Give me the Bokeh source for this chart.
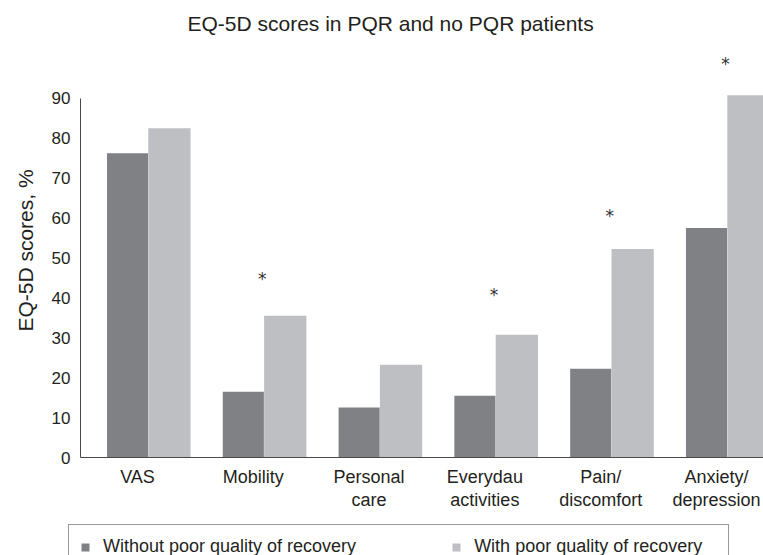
from bokeh.plotting import figure
from bokeh.layouts import column, row
from bokeh.models import Range1d, FixedTicker, Legend, LegendItem, ColumnDataSource
from bokeh.transform import dodge
from bokeh.core.properties import value
from bokeh.embed import file_html
from bokeh.resources import INLINE

# ---- data ----
categories = ["VAS", "Mobility", "Personal\ncare", "Everydau\nactivities",
              "Pain/\ndiscomfort", "Anxiety/\ndepression"]
without_pqr = [76.25, 16.5, 12.5, 15.5, 22.25, 57.5]
with_pqr = [82.5, 35.5, 23.25, 30.75, 52.25, 90.75]
star_index = [1, 3, 4, 5]
star_y = [45, 41, 60.75, 98.75]
y_ticks = [0, 10, 20, 30, 40, 50, 60, 70, 80, 90]
series_names = ["Without poor quality of recovery", "With poor quality of recovery"]

FONT = "Liberation Sans"
TXT = "#231f20"
DARK = "#808185"
LIGHT = "#bebfc3"
AXIS = "#4a4a4a"

pos = [i + 0.5 for i in range(len(categories))]
src = ColumnDataSource(dict(x=pos, cat=categories, without=without_pqr, withp=with_pqr))
star_src = ColumnDataSource(dict(x=[pos[i] for i in star_index], y=star_y,
                                 t=["*"] * len(star_y)))

p = figure(width=763, height=524,
           x_range=Range1d(0.008, 5.906), y_range=Range1d(0, 103.75),
           output_backend="svg", toolbar_location=None,
           min_border_left=80, min_border_right=0,
           min_border_bottom=67, min_border_top=42)
p.outline_line_color = None
p.xgrid.visible = False
p.ygrid.visible = False
p.background_fill_color = "white"
p.border_fill_color = "white"

r1 = p.vbar(x=dodge("x", -0.086, range=p.x_range), top="without", width=0.355,
            source=src, fill_color=DARK, line_color=None)
r2 = p.vbar(x=dodge("x", 0.276, range=p.x_range), top="withp", width=0.365,
            source=src, fill_color=LIGHT, line_color=None)

p.text(x=dodge("x", 0.078, range=p.x_range), y="y", text="t", source=star_src,
       text_font=value("DejaVu Sans"), text_font_size="17px", text_color="#333333",
       text_align="center", text_baseline="alphabetic", y_offset=1)

# title
p.title.text = "EQ-5D scores in PQR and no PQR patients"
p.title.text_font = FONT
p.title.text_font_size = "21px"
p.title.text_font_style = "normal"
p.title.text_color = TXT
p.title.align = "left"
p.title.offset = 107
p.title.standoff = 18

# y axis
ya = p.yaxis[0]
ya.ticker = FixedTicker(ticks=y_ticks)
ya.bounds = (0, 90)
ya.axis_label = "EQ-5D scores, %"
ya.axis_label_text_font = FONT
ya.axis_label_text_font_size = "21px"
ya.axis_label_text_font_style = "normal"
ya.axis_label_text_color = TXT
ya.axis_label_standoff = 12
ya.major_label_text_font = FONT
ya.major_label_text_font_size = "17px"
ya.major_label_text_color = TXT
ya.major_label_standoff = 4
ya.major_tick_line_color = None
ya.minor_tick_line_color = None
ya.axis_line_color = AXIS

# x axis
xa = p.xaxis[0]
xa.ticker = FixedTicker(ticks=pos)
xa.major_label_overrides = {v: c for v, c in zip(pos, categories)}
xa.major_label_text_font = FONT
xa.major_label_text_font_size = "18px"
xa.major_label_text_color = TXT
xa.major_label_text_line_height = 1.15
xa.major_label_standoff = 3
xa.major_tick_line_color = None
xa.minor_tick_line_color = None
xa.axis_line_color = AXIS

# ---- legend strip ----
p2 = figure(width=763, height=31, x_range=Range1d(0, 1), y_range=Range1d(0, 1),
            output_backend="svg", toolbar_location=None,
            min_border_left=68, min_border_right=0, min_border_top=0, min_border_bottom=0,
            x_axis_location=None, y_axis_location=None)
p2.outline_line_color = None
p2.xgrid.visible = False
p2.ygrid.visible = False
# legend swatches only (placed outside the visible range)
d1 = p2.vbar(x=[-5], top=[1], width=0.1, fill_color=DARK, line_color=None)
d2 = p2.vbar(x=[-5], top=[1], width=0.1, fill_color=LIGHT, line_color=None)

legend = Legend(items=[LegendItem(label=series_names[0], renderers=[d1]),
                       LegendItem(label=series_names[1], renderers=[d2])],
                orientation="horizontal", location="top_left")
legend.label_text_font = FONT
legend.label_text_font_size = "18px"
legend.label_text_color = TXT
legend.glyph_width = 10
legend.glyph_height = 10
legend.label_standoff = 13
legend.label_width = 243
legend.label_height = 20
legend.spacing = 95
legend.padding = 11
legend.margin = 0
legend.border_line_color = "#333333"
legend.border_line_width = 1
legend.background_fill_alpha = 1
p2.add_layout(legend, "center")

layout = column(p, row(p2, spacing=0), spacing=0)
open("out.html", "w").write(file_html(layout, INLINE))
